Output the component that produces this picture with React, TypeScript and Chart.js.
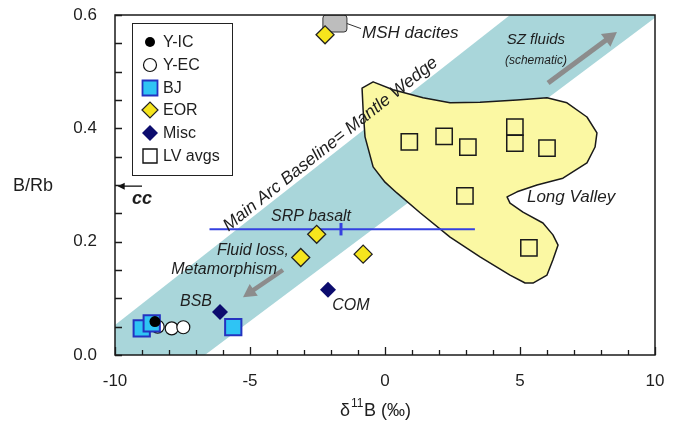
import React, { useEffect, useRef } from 'react';
import { Chart, registerables } from 'chart.js';

Chart.register(...registerables);

// ---- Data ----
const yicPoints = [{ x: -8.52, y: 0.059 }];
const yecPoints = [
  { x: -8.42, y: 0.05 },
  { x: -7.9, y: 0.047 },
  { x: -7.47, y: 0.049 },
];
const bjPoints = [
  { x: -9.01, y: 0.047 },
  { x: -8.64, y: 0.056 },
  { x: -5.62, y: 0.049 },
];
const eorPoints = [
  { x: -2.53, y: 0.213 },
  { x: -3.12, y: 0.172 },
  { x: -0.81, y: 0.178 },
  { x: -2.22, y: 0.565 },
];
const miscPoints = [
  { x: -6.11, y: 0.076 },
  { x: -2.11, y: 0.115 },
];
const lvPoints = [
  { x: 0.9, y: 0.376 },
  { x: 2.19, y: 0.386 },
  { x: 3.07, y: 0.367 },
  { x: 4.81, y: 0.402 },
  { x: 4.81, y: 0.374 },
  { x: 6.0, y: 0.365 },
  { x: 2.96, y: 0.281 },
  { x: 5.33, y: 0.189 },
];
const srpLine = [
  { x: -6.5, y: 0.222 },
  { x: 3.33, y: 0.222 },
];
const srpMean = [
  { x: -1.63, y: 0.211 },
  { x: -1.63, y: 0.233 },
];
const bandPolygon = [
  { x: -10, y: 0.053 },
  { x: 4.63, y: 0.6 },
  { x: 10, y: 0.6 },
  { x: 10, y: 0.595 },
  { x: -6.67, y: 0 },
  { x: -10, y: 0 },
];
const longValleyPolygon = [
  { x: -0.85, y: 0.471 }, { x: -0.44, y: 0.482 }, { x: 0.3, y: 0.468 },
  { x: 1.41, y: 0.454 }, { x: 2.41, y: 0.445 }, { x: 3.52, y: 0.446 },
  { x: 4.89, y: 0.45 }, { x: 6.0, y: 0.454 }, { x: 6.74, y: 0.445 },
  { x: 7.48, y: 0.42 }, { x: 7.85, y: 0.392 }, { x: 7.78, y: 0.367 },
  { x: 7.48, y: 0.339 }, { x: 6.59, y: 0.312 }, { x: 5.63, y: 0.3 },
  { x: 4.89, y: 0.288 }, { x: 4.52, y: 0.279 }, { x: 4.63, y: 0.268 },
  { x: 5.11, y: 0.252 }, { x: 5.85, y: 0.233 }, { x: 6.22, y: 0.212 },
  { x: 6.41, y: 0.194 }, { x: 6.22, y: 0.168 }, { x: 6.0, y: 0.141 },
  { x: 5.48, y: 0.127 }, { x: 5.19, y: 0.127 }, { x: 4.63, y: 0.141 },
  { x: 3.52, y: 0.173 }, { x: 2.41, y: 0.208 }, { x: 1.3, y: 0.251 },
  { x: 0.44, y: 0.286 }, { x: 0.0, y: 0.305 }, { x: -0.44, y: 0.332 },
  { x: -0.74, y: 0.385 }, { x: -0.81, y: 0.432 },
];
const mshBox = { x1: -2.3, x2: -1.41, y1: 0.57, y2: 0.6 };
const xTickValues = [-10, -5, 0, 5, 10];
const yTickValues = [0, 0.2, 0.4, 0.6];
const legendLabels = ['Y-IC', 'Y-EC', 'BJ', 'EOR', 'Misc', 'LV avgs'];

type Note = { text: string; x: number; y: number; font: string; align?: CanvasTextAlign; rot?: number };
const notes: Note[] = [
  { text: 'MSH dacites', x: -0.85, y: 0.568, font: 'italic 17px "Liberation Sans"', align: 'left' },
  { text: 'SZ fluids', x: 5.59, y: 0.556, font: 'italic 15px "Liberation Sans"' },
  { text: '(schematic)', x: 5.59, y: 0.519, font: 'italic 12px "Liberation Sans"' },
  { text: 'Long Valley', x: 6.89, y: 0.279, font: 'italic 17px "Liberation Sans"' },
  { text: 'SRP basalt', x: -2.74, y: 0.245, font: 'italic 16px "Liberation Sans"' },
  { text: 'Fluid loss,', x: -4.89, y: 0.185, font: 'italic 16px "Liberation Sans"' },
  { text: 'Metamorphism', x: -5.96, y: 0.15, font: 'italic 16px "Liberation Sans"' },
  { text: 'BSB', x: -7.0, y: 0.095, font: 'italic 16px "Liberation Sans"' },
  { text: 'COM', x: -1.26, y: 0.088, font: 'italic 16px "Liberation Sans"' },
  { text: 'cc', x: -9.0, y: 0.275, font: 'italic bold 18px "Liberation Sans"' },
  { text: 'Main Arc Baseline= Mantle Wedge', x: -2.02, y: 0.372, font: 'italic 17.5px "Liberation Sans"', rot: -38.5 },
];

const arrows = [
  { x1: 6.04, y1: 0.48, x2: 8.59, y2: 0.57, w: 5, color: '#8c8c8c', head: 14 },
  { x1: -3.78, y1: 0.15, x2: -5.26, y2: 0.102, w: 4.5, color: '#8c8c8c', head: 13 },
  { x1: -9.0, y1: 0.298, x2: -9.9, y2: 0.298, w: 1.3, color: '#111', head: 7 },
];

function drawArrow(ctx: CanvasRenderingContext2D, x1: number, y1: number, x2: number, y2: number, w: number, color: string, head: number) {
  const ang = Math.atan2(y2 - y1, x2 - x1);
  const hl = head;
  const hw = Math.max(head * 0.5, w * 1.6);
  const bx = x2 - Math.cos(ang) * hl;
  const by = y2 - Math.sin(ang) * hl;
  ctx.save();
  ctx.strokeStyle = color;
  ctx.fillStyle = color;
  ctx.lineWidth = w;
  ctx.lineCap = 'butt';
  ctx.beginPath();
  ctx.moveTo(x1, y1);
  ctx.lineTo(bx + Math.cos(ang) * 1, by + Math.sin(ang) * 1);
  ctx.stroke();
  ctx.beginPath();
  ctx.moveTo(x2, y2);
  ctx.lineTo(bx + Math.sin(ang) * hw, by - Math.cos(ang) * hw);
  ctx.lineTo(bx - Math.sin(ang) * hw, by + Math.cos(ang) * hw);
  ctx.closePath();
  ctx.fill();
  ctx.restore();
}

const backgroundPlugin = {
  id: 'bgShapes',
  beforeDatasetsDraw(chart: any) {
    const { ctx, chartArea: a, scales } = chart;
    const X = (v: number) => scales.x.getPixelForValue(v);
    const Y = (v: number) => scales.y.getPixelForValue(v);
    ctx.save();
    ctx.beginPath();
    ctx.rect(a.left, a.top, a.right - a.left, a.bottom - a.top);
    ctx.clip();
    // band
    ctx.beginPath();
    bandPolygon.forEach((p, i) => (i ? ctx.lineTo(X(p.x), Y(p.y)) : ctx.moveTo(X(p.x), Y(p.y))));
    ctx.closePath();
    ctx.fillStyle = '#a9d6da';
    ctx.fill();
    // Long Valley field
    ctx.beginPath();
    longValleyPolygon.forEach((p, i) => (i ? ctx.lineTo(X(p.x), Y(p.y)) : ctx.moveTo(X(p.x), Y(p.y))));
    ctx.closePath();
    ctx.fillStyle = '#fbf8a3';
    ctx.fill();
    ctx.strokeStyle = '#1a1a1a';
    ctx.lineWidth = 1.5;
    ctx.lineJoin = 'round';
    ctx.stroke();
    // MSH box
    const bx1 = X(mshBox.x1), bx2 = X(mshBox.x2), by1 = Y(mshBox.y2), by2 = Y(mshBox.y1);
    const r = 3;
    ctx.beginPath();
    ctx.moveTo(bx1 + r, by1);
    ctx.lineTo(bx2 - r, by1);
    ctx.quadraticCurveTo(bx2, by1, bx2, by1 + r);
    ctx.lineTo(bx2, by2 - r);
    ctx.quadraticCurveTo(bx2, by2, bx2 - r, by2);
    ctx.lineTo(bx1 + r, by2);
    ctx.quadraticCurveTo(bx1, by2, bx1, by2 - r);
    ctx.lineTo(bx1, by1 + r);
    ctx.quadraticCurveTo(bx1, by1, bx1 + r, by1);
    ctx.closePath();
    ctx.fillStyle = '#bdbdbd';
    ctx.fill();
    ctx.strokeStyle = '#333';
    ctx.lineWidth = 1;
    ctx.stroke();
    ctx.beginPath();
    ctx.moveTo(bx2, (by1 + by2) / 2);
    ctx.lineTo(X(-0.89), Y(0.576));
    ctx.stroke();
    ctx.restore();
  },
};

const overlayPlugin = {
  id: 'overlay',
  afterDatasetsDraw(chart: any) {
    const { ctx, chartArea: a, scales } = chart;
    const X = (v: number) => scales.x.getPixelForValue(v);
    const Y = (v: number) => scales.y.getPixelForValue(v);
    ctx.save();
    // arrows
    arrows.forEach((ar) => drawArrow(ctx, X(ar.x1), Y(ar.y1), X(ar.x2), Y(ar.y2), ar.w, ar.color, ar.head));
    // notes
    ctx.fillStyle = '#1e1e1e';
    ctx.textBaseline = 'middle';
    notes.forEach((n) => {
      ctx.save();
      ctx.font = n.font;
      ctx.textAlign = n.align || 'center';
      ctx.translate(X(n.x), Y(n.y));
      if (n.rot) ctx.rotate((n.rot * Math.PI) / 180);
      ctx.fillText(n.text, 0, 0);
      ctx.restore();
    });
    // frame
    ctx.strokeStyle = '#1a1a1a';
    ctx.lineWidth = 1.5;
    ctx.strokeRect(a.left, a.top, a.right - a.left, a.bottom - a.top);
    // ticks
    ctx.lineWidth = 1.3;
    ctx.beginPath();
    for (let v = -10; v <= 10; v += 1) {
      const len = v % 5 === 0 ? 8 : 5;
      const x = Math.round(X(v)) + 0.5;
      ctx.moveTo(x, a.bottom);
      ctx.lineTo(x, a.bottom - len);
    }
    for (let i = 0; i <= 12; i++) {
      const y = Math.round(Y(i * 0.05)) + 0.5;
      ctx.moveTo(a.left, y);
      ctx.lineTo(a.left + 7, y);
    }
    ctx.stroke();
    // legend
    const lx = 132.5, ly = 23.5, lw = 100, lh = 152;
    ctx.fillStyle = '#fff';
    ctx.fillRect(lx, ly, lw, lh);
    ctx.strokeStyle = '#222';
    ctx.lineWidth = 1;
    ctx.strokeRect(lx, ly, lw, lh);
    const rows = [42, 65, 88, 110, 133, 156];
    const mx = 150;
    legendLabels.forEach((lab, i) => {
      const y = rows[i];
      ctx.save();
      ctx.beginPath();
      if (i === 0) {
        ctx.arc(mx, y, 5, 0, Math.PI * 2);
        ctx.fillStyle = '#000';
        ctx.fill();
      } else if (i === 1) {
        ctx.arc(mx, y, 6.5, 0, Math.PI * 2);
        ctx.fillStyle = '#fff';
        ctx.fill();
        ctx.strokeStyle = '#111';
        ctx.lineWidth = 1.2;
        ctx.stroke();
      } else if (i === 2) {
        ctx.rect(mx - 7.5, y - 7.5, 15, 15);
        ctx.fillStyle = '#2fc4f4';
        ctx.fill();
        ctx.strokeStyle = '#2433c0';
        ctx.lineWidth = 1.8;
        ctx.stroke();
      } else if (i === 3) {
        ctx.moveTo(mx - 8, y); ctx.lineTo(mx, y - 8); ctx.lineTo(mx + 8, y); ctx.lineTo(mx, y + 8); ctx.closePath();
        ctx.fillStyle = '#f6e51d';
        ctx.fill();
        ctx.strokeStyle = '#222';
        ctx.lineWidth = 1.2;
        ctx.stroke();
      } else if (i === 4) {
        ctx.moveTo(mx - 8, y); ctx.lineTo(mx, y - 8); ctx.lineTo(mx + 8, y); ctx.lineTo(mx, y + 8); ctx.closePath();
        ctx.fillStyle = '#0c0c6e';
        ctx.fill();
      } else {
        ctx.rect(mx - 7, y - 7, 14, 14);
        ctx.strokeStyle = '#111';
        ctx.lineWidth = 1.4;
        ctx.stroke();
      }
      ctx.restore();
      ctx.fillStyle = '#1e1e1e';
      ctx.font = '16px "Liberation Sans"';
      ctx.textAlign = 'left';
      ctx.textBaseline = 'middle';
      ctx.fillText(lab, 163, y + 1);
    });
    // axis titles
    ctx.fillStyle = '#1e1e1e';
    ctx.font = '18px "Liberation Sans"';
    ctx.textAlign = 'left';
    ctx.textBaseline = 'middle';
    ctx.fillText('B/Rb', 13, 186);
    let tx = 340;
    const ty = 411;
    ctx.fillText('\u03b4', tx, ty);
    tx += ctx.measureText('\u03b4').width + 1;
    ctx.font = '12px "Liberation Sans"';
    ctx.fillText('11', tx, ty - 7);
    tx += ctx.measureText('11').width + 0.5;
    ctx.font = '18px "Liberation Sans"';
    ctx.fillText('B (\u2030)', tx, ty);
    ctx.restore();
  },
};

export default function App() {
  const ref = useRef<HTMLCanvasElement | null>(null);
  useEffect(() => {
    document.body.style.margin = '0';
    if (!ref.current) return;
    const chart = new Chart(ref.current, {
      type: 'scatter',
      data: {
        datasets: [
          { label: 'Y-IC', data: yicPoints, pointStyle: 'circle', pointRadius: 5.5, backgroundColor: '#000', borderColor: '#000', borderWidth: 0, order: 1 },
          { label: 'BJ', data: bjPoints, pointStyle: 'rect', pointRadius: 11.5, backgroundColor: '#2fc4f4', borderColor: '#2433c0', borderWidth: 2, order: 2 },
          { label: 'Y-EC', data: yecPoints, pointStyle: 'circle', pointRadius: 6.5, backgroundColor: '#fff', borderColor: '#111', borderWidth: 1.2, order: 3 },
          { label: 'EOR', data: eorPoints, pointStyle: 'rectRot', pointRadius: 9, backgroundColor: '#f6e51d', borderColor: '#222', borderWidth: 1.3, order: 1 },
          { label: 'Misc', data: miscPoints, pointStyle: 'rectRot', pointRadius: 8, backgroundColor: '#0c0c6e', borderColor: '#0c0c6e', borderWidth: 0, order: 1 },
          { label: 'LV avgs', data: lvPoints, pointStyle: 'rect', pointRadius: 11.5, backgroundColor: 'rgba(0,0,0,0)', borderColor: '#1a1a1a', borderWidth: 1.5, order: 1 },
          { label: 'SRP', type: 'line', data: srpLine, showLine: true, borderColor: '#3540e0', borderWidth: 2, pointRadius: 0, fill: false, order: 5 },
          { label: 'SRPm', type: 'line', data: srpMean, showLine: true, borderColor: '#3540e0', borderWidth: 3, pointRadius: 0, fill: false, order: 5 },
        ] as any,
      },
      options: {
        animation: false,
        responsive: false,
        events: [],
        layout: { padding: { top: 15, right: 20, left: 0, bottom: 0 } },
        plugins: { legend: { display: false }, tooltip: { enabled: false } },
        scales: {
          x: {
            type: 'linear',
            min: -10,
            max: 10,
            afterFit: (s: any) => { s.height = 66; s.paddingLeft = 0; s.paddingRight = 0; s.paddingTop = 0; s.paddingBottom = 0; },
            afterBuildTicks: (s: any) => { s.ticks = xTickValues.map((v) => ({ value: v })); },
            grid: { display: false, drawTicks: false },
            border: { display: false },
            ticks: { padding: 16, color: '#1e1e1e', font: { family: 'Liberation Sans', size: 17 }, callback: (v: any) => String(v) },
          },
          y: {
            type: 'linear',
            min: 0,
            max: 0.6,
            afterFit: (s: any) => { s.width = 115; s.paddingTop = 0; s.paddingBottom = 0; s.paddingLeft = 0; s.paddingRight = 0; },
            afterBuildTicks: (s: any) => { s.ticks = yTickValues.map((v) => ({ value: v })); },
            grid: { display: false, drawTicks: false },
            border: { display: false },
            ticks: { padding: 18, color: '#1e1e1e', font: { family: 'Liberation Sans', size: 17 }, callback: (v: any) => Number(v).toFixed(1) },
          },
        },
      } as any,
      plugins: [backgroundPlugin, overlayPlugin],
    });
    return () => chart.destroy();
  }, []);
  return (
    <div style={{ width: 675, height: 421 }}>
      <canvas ref={ref} width={675} height={421} />
    </div>
  );
}
